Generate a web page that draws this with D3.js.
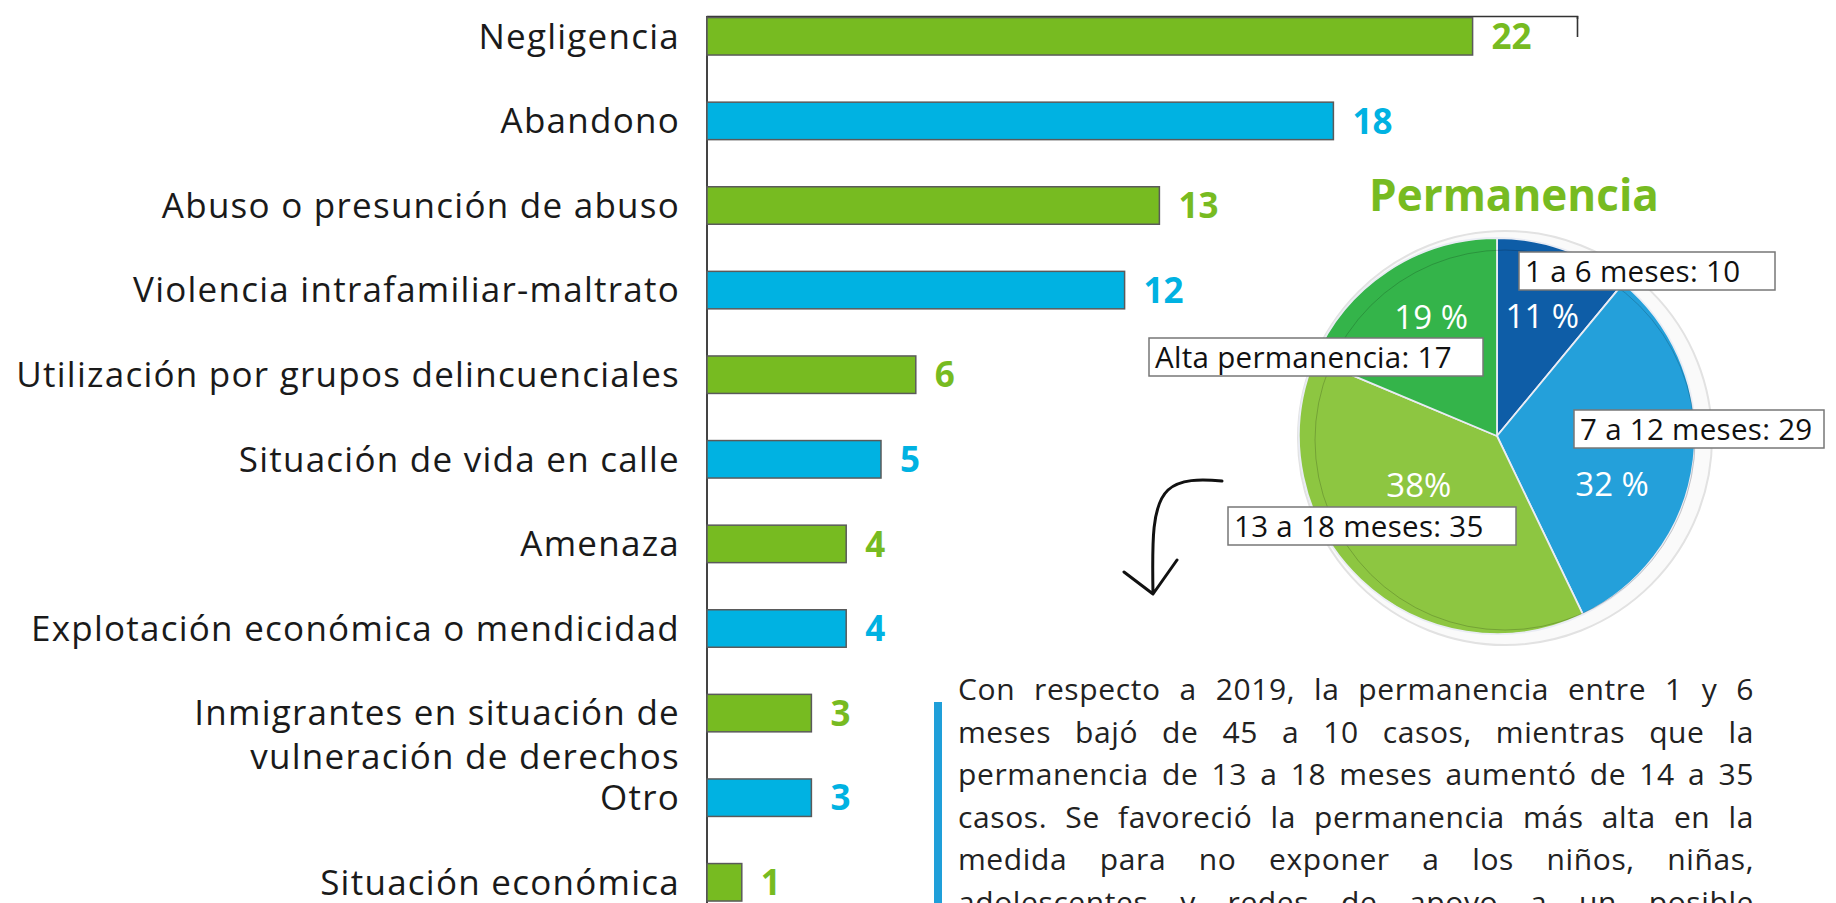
<!DOCTYPE html>
<html lang="es">
<head>
<meta charset="UTF-8">
<title>Motivos de ingreso y permanencia</title>
<script src="https://d3js.org/d3.v7.min.js"></script>
<style>
  body { margin: 0; background: #fff; font-family: 'Open Sans', sans-serif; }
  svg { display: block; }
</style>
</head>
<body>
<div id="chart"></div>
<script>
  // motivos de ingreso (barras)
  const categorias = [
    'Negligencia',
    'Abandono',
    'Abuso o presunción de abuso',
    'Violencia intrafamiliar-maltrato',
    'Utilización por grupos delincuenciales',
    'Situación de vida en calle',
    'Amenaza',
    'Explotación económica o mendicidad',
    'Inmigrantes en situación de|vulneración de derechos',
    'Otro',
    'Situación económica'
  ];
  const casos = [22, 18, 13, 12, 6, 5, 4, 4, 3, 3, 1];
  const ejeTicks = [0, 5, 10, 15, 20, 25];

  // permanencia (torta)
  const tramos = ['1 a 6 meses', '7 a 12 meses', '13 a 18 meses', 'Alta permanencia'];
  const permanencia = [10, 29, 35, 17];
  const porcentajes = ['11 %', '32 %', '38%', '19 %'];

  const nota = [
    'Con respecto a 2019, la permanencia entre 1 y 6',
    'meses bajó de 45 a 10 casos, mientras que la',
    'permanencia de 13 a 18 meses aumentó de 14 a 35',
    'casos. Se favoreció la permanencia más alta en la',
    'medida para no exponer a los niños, niñas,',
    'adolescentes y redes de apoyo a un posible'
  ];

  const W = 1836, H = 903;
  const verde = '#77bb21', azul = '#00b2e2';
  const coloresTorta = ['#0e5da7', '#24a0da', '#8dc641', '#34b44a'];

  const svg = d3.select('#chart').append('svg')
    .attr('width', W).attr('height', H);

  // ---- barras ----
  const x = d3.scaleLinear().domain([0, 25]).range([707, 1577]);
  const y = d3.scaleBand().domain(categorias)
    .range([-6, -6 + 84.6 * 11])
    .paddingInner(0.557).paddingOuter(0.2785);

  const filas = categorias.map((c, i) => ({ c, v: casos[i], i }));

  svg.append('g')
    .attr('transform', 'translate(0,16)')
    .call(d3.axisBottom(x).tickValues(ejeTicks).tickSizeInner(3).tickSizeOuter(21).tickFormat(''))
    .call(g => g.selectAll('path, line').attr('stroke', '#333').attr('stroke-width', 1.6));

  svg.append('line')
    .attr('x1', x(0)).attr('x2', x(0)).attr('y1', 16).attr('y2', H)
    .attr('stroke', '#444').attr('stroke-width', 2);

  svg.selectAll('rect.barra').data(filas).join('rect')
    .attr('class', 'barra')
    .attr('x', x(0))
    .attr('y', d => y(d.c))
    .attr('width', d => x(d.v) - x(0))
    .attr('height', y.bandwidth())
    .attr('fill', d => d.i % 2 ? azul : verde)
    .attr('stroke', '#5a5a5a').attr('stroke-width', 1.5);

  // etiquetas de categoria
  const etq = svg.selectAll('text.cat').data(filas).join('text')
    .attr('class', 'cat')
    .attr('text-anchor', 'end')
    .attr('font-size', 35)
    .attr('letter-spacing', 1.25)
    .attr('fill', '#1a1a1a')
    .attr('y', d => y(d.c) + y.bandwidth() / 2);
  etq.each(function (d) {
    d3.select(this).selectAll('tspan').data(d.c.split('|')).join('tspan')
      .attr('x', x(0) - 27)
      .attr('dy', (t, j) => j === 0 ? '0.35em' : 44)
      .text(t => t);
  });

  // valores
  svg.selectAll('text.valor').data(filas).join('text')
    .attr('class', 'valor')
    .attr('x', d => x(d.v) + 19)
    .attr('y', d => y(d.c) + y.bandwidth() / 2)
    .attr('dy', '0.36em')
    .attr('font-size', 35).attr('font-weight', 700)
    .attr('fill', d => d.i % 2 ? azul : verde)
    .text(d => d.v);

  // ---- torta ----
  const cx = 1497, cy = 436, R = 198;
  const datosTorta = tramos.map((t, i) => ({ t, v: permanencia[i], p: porcentajes[i], i }));
  const pie = d3.pie().sort(null).value(d => d.v);
  const arco = d3.arc().innerRadius(0).outerRadius(R);
  const arcoEtq = d3.arc().innerRadius(128).outerRadius(128);

  svg.append('text')
    .attr('x', 1514).attr('y', 211)
    .attr('text-anchor', 'middle')
    .attr('font-size', 44).attr('font-weight', 700)
    .attr('fill', verde)
    .text('Permanencia');

  const torta = svg.append('g').attr('transform', `translate(${cx},${cy})`);

  torta.append('circle')
    .attr('cx', 8).attr('cy', 2).attr('r', 207)
    .attr('fill', '#fafafa').attr('stroke', '#e2e2e2').attr('stroke-width', 2);

  torta.selectAll('path.tajada').data(pie(datosTorta)).join('path')
    .attr('class', 'tajada')
    .attr('d', arco)
    .attr('fill', d => coloresTorta[d.data.i])
    .attr('stroke', '#e9ecf4').attr('stroke-width', 1.8);

  torta.append('circle')
    .attr('cx', 8).attr('cy', 4).attr('r', 190)
    .attr('fill', 'none').attr('stroke', '#000').attr('stroke-opacity', 0.18).attr('stroke-width', 1);

  // ajustes finos de las etiquetas de porcentaje
  const ajuste = [[2, 1], [-12, 33], [10, -44], [5, -12]];
  torta.selectAll('text.pct').data(pie(datosTorta)).join('text')
    .attr('class', 'pct')
    .attr('x', d => arcoEtq.centroid(d)[0] + ajuste[d.data.i][0])
    .attr('y', d => arcoEtq.centroid(d)[1] + ajuste[d.data.i][1])
    .attr('dy', '0.36em')
    .attr('text-anchor', 'middle')
    .attr('font-size', 33)
    .attr('fill', '#fff')
    .text(d => d.data.p);

  // cajas de leyenda (posicion relativa al centro)
  const cajas = [[22, -184, 256], [77, -26, 250], [-269, 71, 288], [-348, -98, 334]];
  const caja = torta.selectAll('g.caja').data(datosTorta).join('g')
    .attr('class', 'caja')
    .attr('transform', d => `translate(${cajas[d.i][0]},${cajas[d.i][1]})`);
  caja.append('rect')
    .attr('width', d => cajas[d.i][2]).attr('height', 38)
    .attr('fill', '#fff').attr('stroke', '#777').attr('stroke-width', 1.5);
  caja.append('text')
    .attr('x', 6).attr('y', 30)
    .attr('font-size', 29.5)
    .attr('letter-spacing', 0.3)
    .attr('fill', '#111')
    .text(d => `${d.t}: ${d.v}`);

  // flecha dibujada a mano
  svg.append('path')
    .attr('d', 'M1222,481 C1200,479 1180,479 1168,490 C1152,505 1152,540 1153,594 M1124,572 L1153,594 L1177,560')
    .attr('fill', 'none').attr('stroke', '#111').attr('stroke-width', 3)
    .attr('stroke-linecap', 'round').attr('stroke-linejoin', 'round');

  // ---- texto ----
  svg.append('rect')
    .attr('x', 934).attr('y', 702).attr('width', 8).attr('height', H - 702)
    .attr('fill', '#1f9fd9');

  const notaG = svg.append('g').attr('font-size', 30).attr('fill', '#222').attr('letter-spacing', 0.6);
  nota.forEach((linea, k) => {
    const palabras = linea.split(' ');
    const yBase = 700 + k * 42.6;
    const nodos = palabras.map(p => notaG.append('text').attr('y', yBase).text(p));
    const anchos = nodos.map(n => n.node().getComputedTextLength());
    const hueco = (796 - d3.sum(anchos)) / (palabras.length - 1);
    let xx = 958;
    nodos.forEach((n, j) => { n.attr('x', xx); xx += anchos[j] + hueco; });
  });
</script>
</body>
</html>
